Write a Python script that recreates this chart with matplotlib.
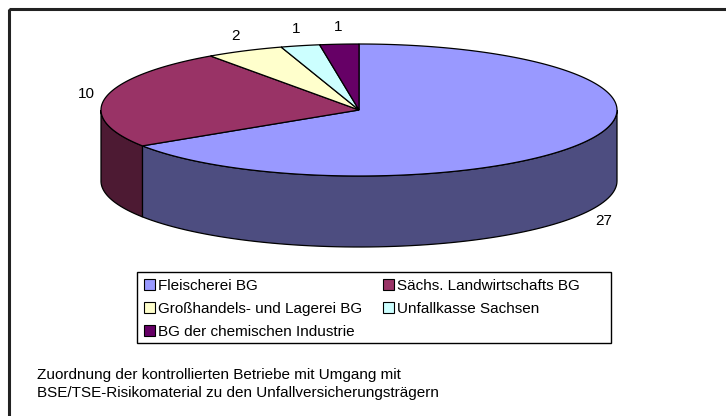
import numpy as np
import matplotlib
matplotlib.use("Agg")
import matplotlib.pyplot as plt
from matplotlib.patches import Polygon, Rectangle, Patch

plt.rcParams['font.family'] = ['Liberation Sans', 'DejaVu Sans']

# ── data ────────────────────────────────────────────────────────────────────
labels = [
    "Fleischerei BG",
    "Sächs. Landwirtschafts BG",
    "Großhandels- und Lagerei BG",
    "Unfallkasse Sachsen",
    "BG der chemischen Industrie",
]
values = [27, 10, 2, 1, 1]
top_colors = ["#9999FF", "#993366", "#FFFFCC", "#CCFFFF", "#660066"]
side_colors = ["#4D4D80", "#4D1A33", "#80806A", "#6A8080", "#330033"]
caption = ("Zuordnung der kontrollierten Betriebe mit Umgang mit\n"
           "BSE/TSE-Risikomaterial zu den Unfallversicherungsträgern")

# ── geometry of the 3-D pie (pixel space) ───────────────────────────────────
W, H = 726, 416
cx, cy = 359, 110
rx, ry = 258, 66
depth = 71


def ell(theta_deg, dy=0.0):
    t = np.radians(theta_deg)
    return cx + rx * np.cos(t), cy - ry * np.sin(t) + dy


fig = plt.figure(figsize=(W / 100, H / 100), dpi=100)
ax = fig.add_axes([0, 0, 1, 1])
ax.set_xlim(0, W)
ax.set_ylim(H, 0)
ax.axis("off")

# outer frame (right/bottom run off the picture)
ax.add_patch(Rectangle((9, 9), W + 20, H + 20, fill=False,
                       edgecolor="#222222", linewidth=2.2))

total = float(sum(values))
edges = 90 - np.concatenate([[0], np.cumsum(values)]) / total * 360

# side walls: only the front half (-180..0) is visible
for i in range(len(values)):
    hi, lo = edges[i], edges[i + 1]
    a, b = max(lo, -180), min(hi, 0)
    if a >= b:
        continue
    ts = np.linspace(a, b, 80)
    top = [ell(t) for t in ts]
    bot = [ell(t, depth) for t in ts[::-1]]
    ax.add_patch(Polygon(top + bot, closed=True, facecolor=side_colors[i],
                         edgecolor="black", linewidth=0.9, zorder=2))

# top surface wedges
for i in range(len(values)):
    hi, lo = edges[i], edges[i + 1]
    ts = np.linspace(hi, lo, 200)
    pts = [(cx, cy)] + [ell(t) for t in ts]
    ax.add_patch(Polygon(pts, closed=True, facecolor=top_colors[i],
                         edgecolor="black", linewidth=0.9, zorder=3))

# value labels
for i, v in enumerate(values):
    mid = (edges[i] + edges[i + 1]) / 2
    t = np.radians(mid)
    px, py = ell(mid, depth if np.sin(t) < 0 else 0)
    px += 20 * np.cos(t)
    py -= 17 * np.sin(t)
    ax.text(px, py, str(v), ha="center", va="center", fontsize=11, zorder=4)

# legend: column-major order so rows read left→right like the original
order = [0, 2, 4, 1, 3]
handles = [Patch(facecolor=top_colors[k], edgecolor="black", linewidth=0.8,
                 label=labels[k]) for k in order]
leg = ax.legend(handles=handles, ncol=2, loc="upper left",
                bbox_to_anchor=(137 / W, 1 - 272 / H),
                fontsize=11, frameon=False,
                handlelength=0.72, handleheight=0.72, handletextpad=0.2,
                labelspacing=0.58, borderpad=0.45, borderaxespad=0,
                columnspacing=1.35)
# legend box drawn separately so it keeps the original width
ax.add_patch(Rectangle((137, 272), 611 - 137, 343 - 272, fill=False,
                       edgecolor="black", linewidth=1.0, zorder=1))

ax.text(37, 384, caption, ha="left", va="center", fontsize=11,
        linespacing=1.35)

fig.savefig("out.png", dpi=100)
